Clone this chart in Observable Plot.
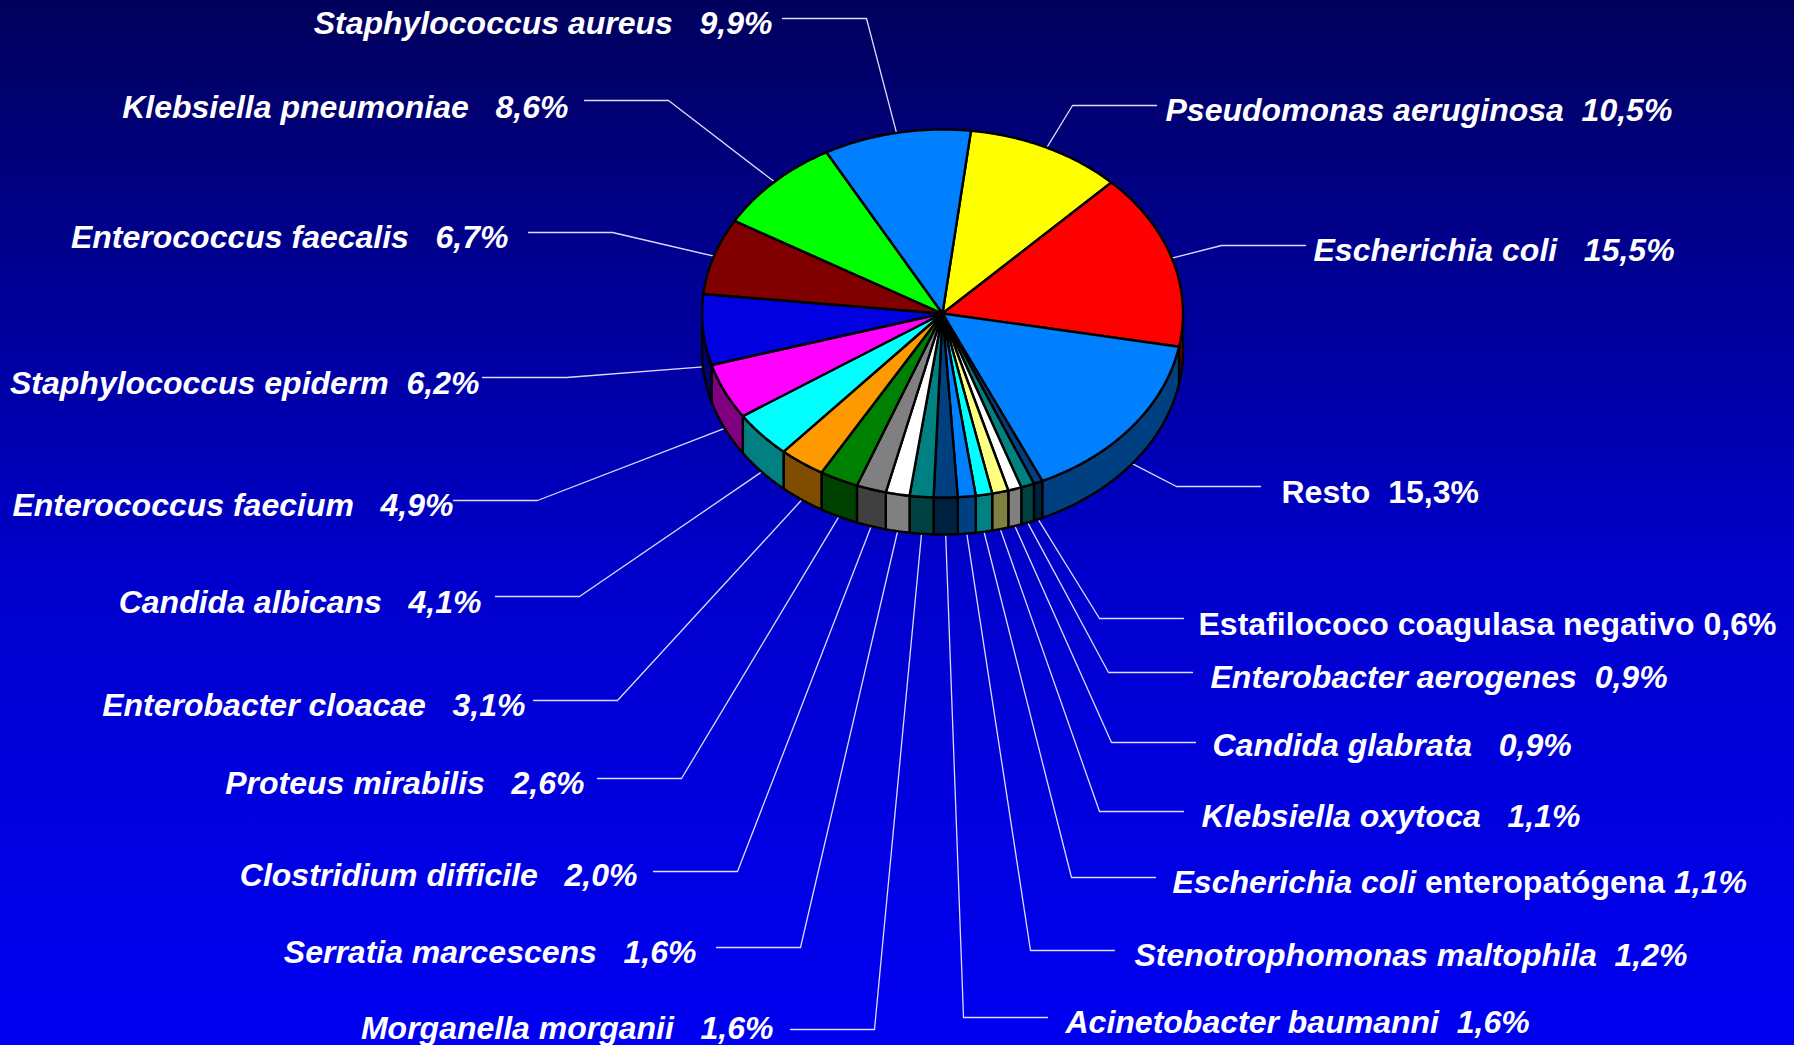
<!DOCTYPE html>
<html><head><meta charset="utf-8">
<script src="https://cdn.jsdelivr.net/npm/d3@7"></script>
<script src="https://cdn.jsdelivr.net/npm/@observablehq/plot@0.6"></script>
<style>
html,body{margin:0;padding:0;}
body{width:1794px;height:1045px;overflow:hidden;background:linear-gradient(to bottom,#00005c 0%,#00009a 30%,#0000cc 55%,#0000f2 100%);}
#chart svg{display:block;}
</style></head><body><div id="chart"></div>
<script>
// ---- data (clockwise order, starting with Pseudomonas) ----
const organisms = ["Pseudomonas aeruginosa","Escherichia coli","Resto","Estafilococo coagulasa negativo","Enterobacter aerogenes","Candida glabrata","Klebsiella oxytoca","Escherichia coli enteropatógena","Stenotrophomonas maltophila","Acinetobacter baumanni","Morganella morganii","Serratia marcescens","Clostridium difficile","Proteus mirabilis","Enterobacter cloacae","Candida albicans","Enterococcus faecium","Staphylococcus epiderm","Enterococcus faecalis","Klebsiella pneumoniae","Staphylococcus aureus"];
const percents = [10.5,15.5,15.3,0.6,0.9,0.9,1.1,1.1,1.2,1.6,1.6,1.6,2.0,2.6,3.1,4.1,4.9,6.2,6.7,8.6,9.9];

// ---- styles ----
const sliceColors = ["#FFFF00","#FF0000","#0080FF","#004080","#008080","#FFFFFF","#FFFF80","#00FFFF","#0080FF","#004080","#008080","#FFFFFF","#808080","#008000","#FF9900","#00FFFF","#FF00FF","#0000E0","#800000","#00FF00","#0080FF"];
const italicLabel = [1,1,0,0,1,1,1,1,1,1,1,1,1,1,1,1,1,1,1,1,1];
const labelGap = [2,3,2,1,2,3,3,1,2,2,3,3,3,3,3,3,3,2,3,3,3];

// ---- layout (label anchor, leader end) ----
const labelSide = ["R","R","R","R","R","R","R","R","R","R","L","L","L","L","L","L","L","L","L","L","L"];
const labelX = [1165,1313,1281,1198,1210,1212,1201,1172,1134,1065,773,696,637,584,525,481,453,479,508,568,772];
const labelY = [120,260,502,634,687,755,826,892,965,1032,1038,962,885,793,715,612,515,393,247,117,33];
const leaderEndX = [1156,1305,1260,1183,1192,1195,1183,1155,1114,1047,790,716,653,597,533,495,453,482,528,584,782];
const leaderY = [105,245,486,618,672,742,811,877,950,1017,1029,947,871,778,700,596,500,377,232,100,18];

// ---- pie geometry ----
const CX = 942, CY = 313, RX = 240.5, RY = 184, DEPTH = 37, ELBOW = 84;
const START = 6.8 * Math.PI / 180;
const arcs = d3.pie().sort(null).startAngle(START).endAngle(START + 2 * Math.PI)(percents);
const px = a => CX + RX * Math.sin(a);
const py = a => CY - RY * Math.cos(a);
const dark = c => { const r = d3.rgb(c); return d3.rgb(r.r * 0.5, r.g * 0.5, r.b * 0.5).formatHex(); };
const fmt = v => d3.format(".1f")(v).replace(".", ",") + "%";

const tops = [], sides = [];
arcs.forEach((a, i) => {
  const n = Math.max(2, Math.ceil((a.endAngle - a.startAngle) / 0.01));
  tops.push({id: i, x: CX, y: CY, fill: sliceColors[i]});
  for (let k = 0; k <= n; k++) {
    const t = a.startAngle + (a.endAngle - a.startAngle) * k / n;
    tops.push({id: i, x: px(t), y: py(t), fill: sliceColors[i]});
  }
  tops.push({id: i, x: CX, y: CY, fill: sliceColors[i]});
  // side face (front half only: angles between 90° and 270°)
  const s0 = Math.max(a.startAngle, Math.PI / 2), s1 = Math.min(a.endAngle, 3 * Math.PI / 2);
  if (s1 > s0) {
    const m = Math.max(2, Math.ceil((s1 - s0) / 0.01));
    const pts = [];
    for (let k = 0; k <= m; k++) { const t = s0 + (s1 - s0) * k / m; pts.push([px(t), py(t)]); }
    for (let k = m; k >= 0; k--) { const t = s0 + (s1 - s0) * k / m; pts.push([px(t), py(t) + DEPTH]); }
    pts.push(pts[0]);
    pts.forEach(p => sides.push({id: i, x: p[0], y: p[1], fill: dark(sliceColors[i])}));
  }
});

// leader lines
const leaders = [];
arcs.forEach((a, i) => {
  const mid = (a.startAngle + a.endAngle) / 2;
  const front = mid > Math.PI / 2 && mid < 3 * Math.PI / 2;
  const ax = px(mid), ay = py(mid) + (front ? DEPTH : 0);
  const dir = labelSide[i] === "R" ? -1 : 1;
  leaders.push({id: i, x: ax, y: ay});
  leaders.push({id: i, x: leaderEndX[i] + dir * ELBOW, y: leaderY[i]});
  leaders.push({id: i, x: leaderEndX[i], y: leaderY[i]});
});

const labels = organisms.map((name, i) => ({
  i, x: labelX[i], y: labelY[i], side: labelSide[i], italic: italicLabel[i],
  text: name + "\u00A0".repeat(labelGap[i]) + fmt(percents[i])
}));

const font = {fontSize: 32, fontWeight: "bold", fill: "white", fontFamily: "'Liberation Sans', Arial, sans-serif", lineAnchor: "bottom"};

const chart = Plot.plot({
  width: 1794, height: 1045, margin: 0,
  x: {domain: [0, 1794], range: [0, 1794], axis: null},
  y: {domain: [0, 1045], range: [0, 1045], axis: null},
  color: {type: "identity"},
  style: {background: "transparent", overflow: "visible"},
  marks: [
    Plot.line(leaders, {x: "x", y: "y", z: "id", stroke: "#dcdcff", strokeWidth: 1.3}),
    Plot.line(sides, {x: "x", y: "y", z: "id", fill: "fill", stroke: "#000", strokeWidth: 2.4, strokeLinejoin: "round", curve: "linear"}),
    Plot.line(tops, {x: "x", y: "y", z: "id", fill: "fill", stroke: "#000", strokeWidth: 2.4, strokeLinejoin: "round", curve: "linear"}),
    Plot.text(labels.filter(d => d.side === "R" && d.italic), {x: "x", y: "y", text: "text", textAnchor: "start", fontStyle: "italic", ...font}),
    Plot.text(labels.filter(d => d.side === "R" && !d.italic), {x: "x", y: "y", text: "text", textAnchor: "start", fontStyle: "normal", ...font}),
    Plot.text(labels.filter(d => d.side === "L"), {x: "x", y: "y", text: "text", textAnchor: "end", fontStyle: "italic", ...font})
  ]
});
document.getElementById("chart").appendChild(chart);

// mixed styling for "Escherichia coli enteropatógena"
d3.select(chart).selectAll("text").each(function() {
  const t = this.textContent;
  if (t.startsWith("Escherichia coli enteropat")) {
    const parts = t.split("\u00A0");
    const pct = parts[parts.length - 1];
    const sel = d3.select(this);
    sel.text(null);
    sel.append("tspan").attr("font-style", "italic").text("Escherichia coli");
    sel.append("tspan").attr("font-style", "normal").text("\u00A0enteropatógena\u00A0");
    sel.append("tspan").attr("font-style", "italic").text(pct);
  }
});
</script>
</body></html>
